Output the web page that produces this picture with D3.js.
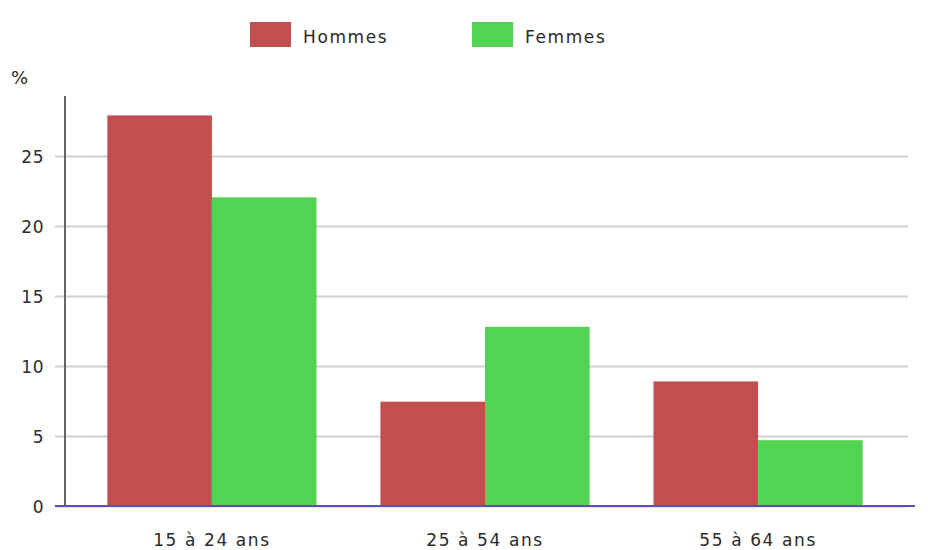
<!DOCTYPE html>
<html>
<head>
<meta charset="utf-8">
<script src="https://cdn.jsdelivr.net/npm/d3@7"></script>
<style>
  body { margin: 0; background: #fff; }
  text { font-family: "DejaVu Sans", Verdana, sans-serif; fill: #2a2a2a; }
</style>
</head>
<body>
<div id="chart"></div>
<script>
const ageGroups = ["15 à 24 ans", "25 à 54 ans", "55 à 64 ans"];
const seriesNames = ["Hommes", "Femmes"];
const hommes = [27.9, 7.45, 8.9];
const femmes = [22.05, 12.8, 4.7];
const yTicks = [0, 5, 10, 15, 20, 25];
const colors = ["#c24f50", "#52d452"];

const width = 928, height = 550;
const margin = { top: 96, bottom: 44, left: 65, right: 23 };

const svg = d3.select("#chart")
  .append("svg")
  .attr("width", width)
  .attr("height", height);

const x0 = d3.scaleBand()
  .domain(ageGroups)
  .range([margin.left, width - margin.right])
  .paddingInner(0.234)
  .paddingOuter(0.155);

const x1 = d3.scaleBand()
  .domain(seriesNames)
  .range([0, x0.bandwidth()]);

const y = d3.scaleLinear()
  .domain([0, 410 / 14])
  .range([height - margin.bottom, margin.top]);

const color = d3.scaleOrdinal().domain(seriesNames).range(colors);

// grid lines + tick labels
const yAxis = d3.axisLeft(y)
  .tickValues(yTicks)
  .tickSize(0)
  .tickFormat(d3.format("d"));

const gy = svg.append("g")
  .attr("transform", "translate(" + (margin.left - 10) + ",0)")
  .call(yAxis);
gy.select(".domain").remove();
gy.selectAll(".tick line")
  .attr("x1", 0)
  .attr("x2", width - margin.right - margin.left + 13)
  .attr("stroke", "#cfcfcf")
  .attr("stroke-width", 2);
gy.selectAll(".tick text")
  .attr("x", -11)
  .attr("dy", "0.36em")
  .style("font-size", "17px")
  .style("letter-spacing", "0.5px");

// bars
const rows = ageGroups.map((g, i) => ({ group: g, values: [hommes[i], femmes[i]] }));

svg.append("g")
  .selectAll("g")
  .data(rows)
  .join("g")
  .attr("transform", d => "translate(" + x0(d.group) + ",0)")
  .selectAll("rect")
  .data(d => d.values.map((v, j) => ({ key: seriesNames[j], value: v })))
  .join("rect")
  .attr("x", d => x1(d.key))
  .attr("width", x1.bandwidth())
  .attr("y", d => y(d.value))
  .attr("height", d => y(0) - y(d.value))
  .attr("fill", d => color(d.key));

// y axis line
svg.append("line")
  .attr("x1", margin.left).attr("x2", margin.left)
  .attr("y1", margin.top).attr("y2", y(0))
  .attr("stroke", "#666")
  .attr("stroke-width", 2);

// baseline
svg.append("line")
  .attr("x1", margin.left - 10).attr("x2", width - 13)
  .attr("y1", y(0)).attr("y2", y(0))
  .attr("stroke", "#5a4fb8")
  .attr("stroke-width", 2);

// x labels
const xAxis = d3.axisBottom(x0).tickSize(0).tickPadding(33);
const gx = svg.append("g")
  .attr("transform", "translate(0," + y(0) + ")")
  .call(xAxis);
gx.select(".domain").remove();
gx.selectAll(".tick text")
  .attr("dy", "0.4em")
  .style("font-size", "17px")
  .style("letter-spacing", "1.6px");

// unit label
svg.append("text")
  .text("%")
  .attr("x", 11)
  .attr("y", 84)
  .style("font-size", "18px");

// legend
const legend = svg.append("g");
const legendX = [250, 472];
seriesNames.forEach((name, i) => {
  legend.append("rect")
    .attr("x", legendX[i])
    .attr("y", 22)
    .attr("width", 41)
    .attr("height", 25)
    .attr("fill", colors[i]);
  legend.append("text")
    .text(name)
    .attr("x", legendX[i] + 53)
    .attr("y", 43)
    .style("font-size", "17px")
    .style("letter-spacing", "1.6px");
});
</script>
</body>
</html>
